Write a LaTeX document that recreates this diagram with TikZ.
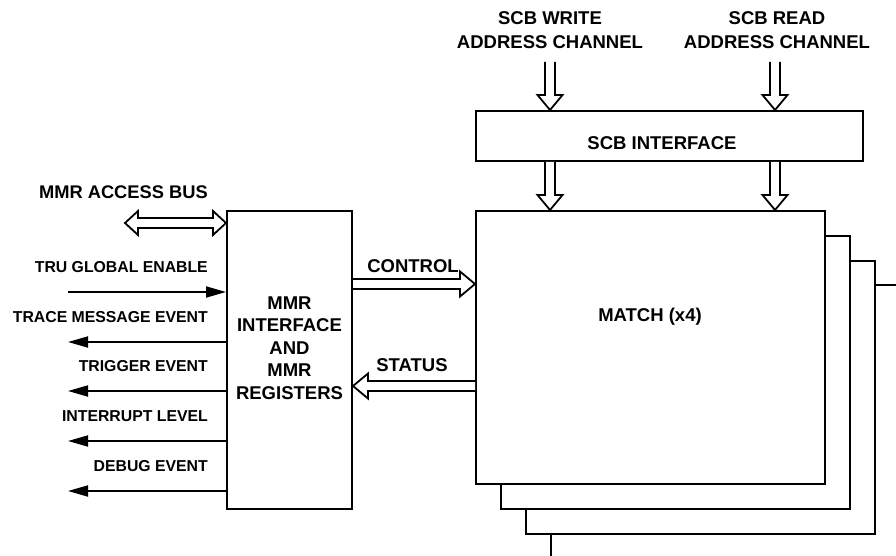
\documentclass[tikz,border=0pt]{standalone}
\usepackage{fontspec}
\setmainfont{Liberation Sans}
\usetikzlibrary{calc,arrows.meta}
\begin{document}
\begin{tikzpicture}[x=1pt,y=-1pt,
  font=\fontsize{18.5}{22.5}\selectfont\bfseries,
  box/.style={draw, line width=2pt, fill=white, inner sep=0pt},
  lbl/.style={inner sep=0pt, align=center},
  siglbl/.style={inner sep=0pt, anchor=east, font=\fontsize{15.8}{19}\selectfont\bfseries},
  sig/.style={line width=1.8pt, -{Triangle[length=20pt,width=11pt]}},
  hollow/.style={draw, line width=1.8pt, fill=white, line join=miter, to path={
    let \p1=(\tikztostart), \p2=(\tikztotarget), \p3=($(\p2)!15pt!(\p1)$) in
    ($(\p1)!5pt!90:(\p2)$) -- ($(\p3)!5pt!90:(\p2)$) -- ($(\p3)!12.5pt!90:(\p2)$) -- (\p2)
    -- ($(\p3)!12.5pt!-90:(\p2)$) -- ($(\p3)!5pt!-90:(\p2)$) -- ($(\p1)!5pt!-90:(\p2)$)
  }},
  hollowtwo/.style={draw, line width=1.8pt, fill=white, line join=miter, to path={
    let \p1=(\tikztostart), \p2=(\tikztotarget), \p3=($(\p2)!13pt!(\p1)$), \p4=($(\p1)!13pt!(\p2)$) in
    (\p1) -- ($(\p4)!12pt!90:(\p2)$) -- ($(\p4)!5pt!90:(\p2)$) -- ($(\p3)!5pt!90:(\p2)$) -- ($(\p3)!12pt!90:(\p2)$) -- (\p2)
    -- ($(\p3)!12pt!-90:(\p2)$) -- ($(\p3)!5pt!-90:(\p2)$) -- ($(\p4)!5pt!-90:(\p2)$) -- ($(\p4)!12pt!-90:(\p2)$) -- cycle
  }}
]
\useasboundingbox (0,0) rectangle (896,556);

% stacked MATCH boxes
\node[box, minimum width=349pt, minimum height=273pt] (m4) at (725.5,421.5) {};
\node[box, minimum width=349pt, minimum height=273pt] (m3) at (700.5,397) {};
\node[box, minimum width=349pt, minimum height=273pt] (m2) at (675.5,372) {};
\node[box, minimum width=349pt, minimum height=273pt] (m1) at (650.5,347.5) {};
\node[lbl] (mtext) at (650,317) {MATCH (x4)};

% SCB interface
\node[box, minimum width=387pt, minimum height=50pt] (scb) at (669.5,136) {};
\node[lbl] (scbtext) at (662,143) {SCB INTERFACE};

% MMR box
\node[box, minimum width=125pt, minimum height=298pt] (mmr) at (289.5,360) {};
\node[lbl] (mmrtext) at (289.5,348) {MMR\\INTERFACE\\AND\\MMR\\REGISTERS};

% top labels
\node[lbl, font=\fontsize{18.5}{24}\selectfont\bfseries] (lw) at (550,30) {SCB WRITE\\ADDRESS CHANNEL};
\node[lbl, font=\fontsize{18.5}{24}\selectfont\bfseries] (lr) at (777,30) {SCB READ\\ADDRESS CHANNEL};

% SCB hollow arrows
\coordinate (wtop) at (550,62);
\coordinate (rtop) at (775,62);
\draw[hollow] (wtop) to (wtop |- scb.north);
\draw[hollow] (rtop) to (rtop |- scb.north);
\draw[hollow] (scb.south -| wtop) to (m1.north -| wtop);
\draw[hollow] (scb.south -| rtop) to (m1.north -| rtop);

% control / status
\coordinate (cy) at (0,284);
\coordinate (sy) at (0,386);
\draw[hollow] (mmr.east |- cy) to (m1.west |- cy);
\draw[hollow] (m1.west |- sy) to (mmr.east |- sy);
\node[lbl] (lctl) at (413,266) {CONTROL};
\node[lbl] (lsts) at (412,365) {STATUS};

% MMR access bus
\coordinate (bus) at (125,223);
\draw[hollowtwo] (bus) to (mmr.west |- bus);
\node[lbl, anchor=east, font=\fontsize{18.3}{22}\selectfont\bfseries] (lbus) at (208,192) {MMR ACCESS BUS};

% signals
\coordinate (t1) at (68,292);
\coordinate (o1) at (68,342);
\coordinate (o2) at (68,391);
\coordinate (o3) at (68,441);
\coordinate (o4) at (68,491);
\draw[sig] (t1) -- (mmr.west |- t1);
\draw[sig] (mmr.west |- o1) -- (o1);
\draw[sig] (mmr.west |- o2) -- (o2);
\draw[sig] (mmr.west |- o3) -- (o3);
\draw[sig] (mmr.west |- o4) -- (o4);
\node[siglbl] (ltru) at (208,267) {TRU GLOBAL ENABLE};
\node[siglbl] (ltrace) at (208,317) {TRACE MESSAGE EVENT};
\node[siglbl] (ltrig) at (208,366) {TRIGGER EVENT};
\node[siglbl] (lint) at (208,416) {INTERRUPT LEVEL};
\node[siglbl] (ldbg) at (208,466) {DEBUG EVENT};
\end{tikzpicture}
\end{document}
